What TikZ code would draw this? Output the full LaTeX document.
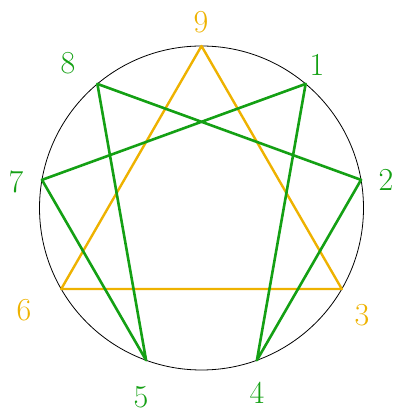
\documentclass[tikz,border=0pt]{standalone}
\usepackage{tikz}
\usetikzlibrary{calc}
\definecolor{hexgreen}{RGB}{20,160,20}
\definecolor{trigold}{RGB}{238,178,0}

\begin{document}
\begin{tikzpicture}[x=1pt,y=1pt]
\useasboundingbox (0,0) rectangle (400,414);
\pgfmathsetmacro{\r}{162}
\coordinate (c) at (201.5,206);
\draw[line width=0.8pt] (c) circle (\r);
\foreach \k in {1,...,9}
  \coordinate (p\k) at ($(c)+({90-40*\k}:\r)$);
\draw[trigold, line width=2.4pt, line join=round] (p9) -- (p3) -- (p6) -- cycle;
\draw[hexgreen, line width=2.6pt, line join=round] (p1) -- (p4) -- (p2) -- (p8) -- (p5) -- (p7) -- cycle;
\foreach \k/\x/\y/\col in {9/201/392/trigold, 1/317/349/hexgreen, 2/386/234/hexgreen,
  3/362/99/trigold, 4/257/21/hexgreen, 5/141/17/hexgreen, 6/24/104/trigold,
  7/16/232/hexgreen, 8/68/351/hexgreen}
  \node[text=\col, font=\fontsize{32}{38}\selectfont] (l\k) at (\x,\y) {\k};
\end{tikzpicture}
\end{document}
